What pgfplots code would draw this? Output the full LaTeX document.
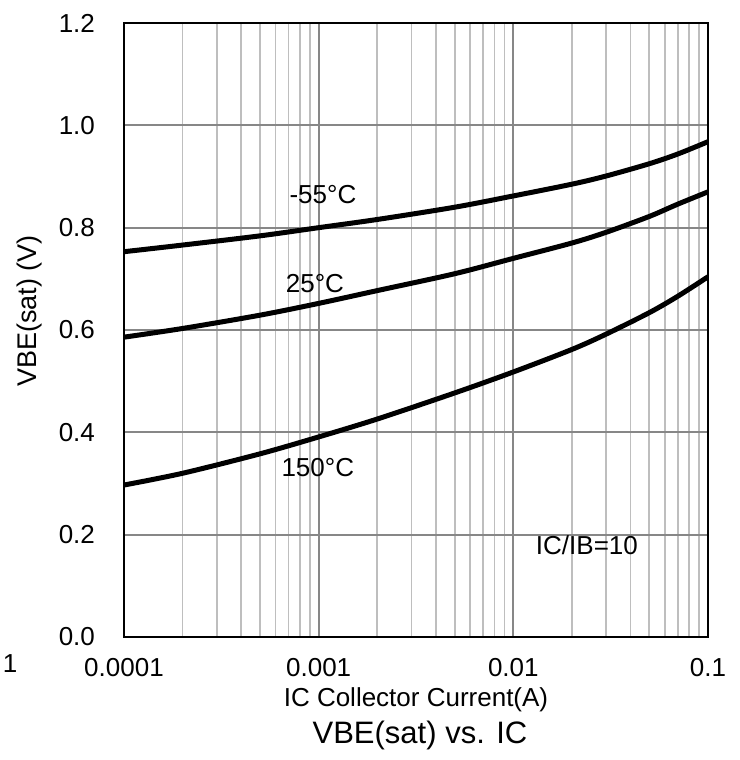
\documentclass[border=0pt]{standalone}
\usepackage{fontspec}
\setmainfont{Liberation Sans}
\usepackage{pgfplots}
\pgfplotsset{compat=1.18}
\definecolor{gridmajor}{RGB}{135,135,135}
\definecolor{gridminor}{RGB}{190,190,190}

\begin{document}
\begin{tikzpicture}
\begin{axis}[
  scale only axis,
  width=292pt, height=307pt,
  xmode=log,
  xmin=1e-4, xmax=1e-1,
  ymin=0, ymax=1.2,
  xtick={1e-4,1e-3,1e-2,1e-1},
  xticklabels={0.0001,0.001,0.01,0.1},
  ytick={0,0.2,0.4,0.6,0.8,1.0,1.2},
  yticklabels={0.0,0.2,0.4,0.6,0.8,1.0,1.2},
  major tick length=0pt, minor tick length=0pt,
  xmajorgrids, xminorgrids, ymajorgrids,
  major grid style={gridmajor, line width=0.9pt},
  minor grid style={gridminor, line width=0.9pt},
  axis line style={black, line width=0.9pt},
  ticklabel style={font=\fontsize{13}{15}\selectfont},
  /pgf/number format/assume math mode=true,
  yticklabel style={xshift=-11pt},
  xticklabel style={yshift=-7pt},
  clip=true,
]
% -55 C
\addplot[black, line width=2.5pt, smooth] coordinates {
  (1e-4,0.753) (2e-4,0.766) (5e-4,0.784) (1e-3,0.800) (2e-3,0.816)
  (5e-3,0.840) (1e-2,0.862) (2e-2,0.885) (3e-2,0.901) (5e-2,0.925)
  (7e-2,0.944) (1e-1,0.968)};
% 25 C
\addplot[black, line width=2.5pt, smooth] coordinates {
  (1e-4,0.586) (2e-4,0.603) (5e-4,0.629) (1e-3,0.652) (2e-3,0.677)
  (5e-3,0.710) (1e-2,0.740) (2e-2,0.770) (3e-2,0.791) (5e-2,0.822)
  (7e-2,0.846) (1e-1,0.870)};
% 150 C
\addplot[black, line width=2.5pt, smooth] coordinates {
  (1e-4,0.297) (2e-4,0.320) (5e-4,0.358) (1e-3,0.391) (2e-3,0.426)
  (5e-3,0.477) (1e-2,0.518) (2e-2,0.562) (3e-2,0.592) (5e-2,0.634)
  (7e-2,0.666) (1e-1,0.704)};

\node[font=\fontsize{13}{15}\selectfont] at (axis cs:1.052e-3,0.864) {-55°C};
\node[font=\fontsize{13}{15}\selectfont] at (axis cs:9.57e-4,0.690) {25°C};
\node[font=\fontsize{13}{15}\selectfont] at (axis cs:9.9e-4,0.332) {150°C};
\node[font=\fontsize{13}{15}\selectfont] at (axis cs:0.02388,0.180) {IC/IB=10};

\coordinate (bl) at (rel axis cs:0,0);
\coordinate (tr) at (rel axis cs:1,1);
\end{axis}

\node[font=\fontsize{13}{15}\selectfont] at ([shift={(146pt,-31.5pt)}]bl) {IC Collector Current(A)};
\node[font=\fontsize{15.5}{18}\selectfont] at ([shift={(148pt,-49pt)}]bl) {VBE(sat) vs. IC};
\node[font=\fontsize{13.5}{15}\selectfont, rotate=90] at ([shift={(-47pt,163pt)}]bl) {VBE(sat) (V)};
\node[font=\fontsize{13}{15}\selectfont] at ([shift={(-57pt,-13.5pt)}]bl) {1};

\pgfresetboundingbox
\path ([shift={(-62pt,-61.5pt)}]bl) rectangle ([shift={(16pt,11.5pt)}]tr);
\end{tikzpicture}
\end{document}
